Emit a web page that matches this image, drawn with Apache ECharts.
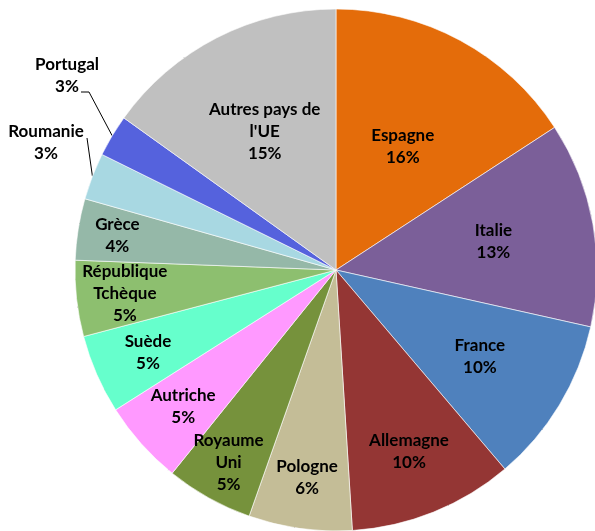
<!DOCTYPE html>
<html>
<head>
<meta charset="utf-8">
<script src="https://cdn.jsdelivr.net/npm/echarts@6/dist/echarts.min.js"></script>
<style>
  html, body { margin: 0; padding: 0; background: #fff; }
  #chart { width: 595px; height: 531px; }
</style>
</head>
<body>
<div id="chart"></div>
<script>
// parts des pays (%), dans le sens horaire depuis midi
var pays = ['Espagne', 'Italie', 'France', 'Allemagne', 'Pologne', 'Royaume\nUni', 'Autriche',
  'Suède', 'République\nTchèque', 'Grèce', 'Roumanie', 'Portugal', "Autres pays de\nl'UE"];
var parts = [15.8, 12.7, 10.3, 10.2, 6.4, 5.4, 5.2, 4.9, 4.7, 3.8, 2.9, 2.6, 15.1];
var couleurs = ['#e46c0a', '#7b5f99', '#4f81bd', '#943634', '#c4bd97', '#76923c', '#ff99ff',
  '#66ffcc', '#8dbf6f', '#95b8a8', '#a8d8e2', '#5562dd', '#c0c0c0'];
// distance des étiquettes au centre (fraction du rayon), comme le "meilleur ajustement" d'Excel
var rayonsEtiquettes = [0.537, 0.613, 0.644, 0.748, 0.804, 0.845, 0.785, 0.786, 0.814, 0.848, 1, 1, 0.598];

var CX = 336, CY = 270, R = 261;
// étiquettes sorties du camembert (avec trait de rappel)
var sorties = {
  'Portugal': { x: 67, y: 76, coude: [89, 92], bout: [81, 92] },
  'Roumanie': { x: 46, y: 143, coude: [87, 138], bout: [87, 138] }
};

var total = parts.reduce(function (a, b) { return a + b; }, 0);
// angle de la bissectrice de chaque part (radians, depuis midi, sens horaire)
var cumul = 0;
var bissectrices = parts.map(function (v) {
  var a = (cumul + v / 2) / total * 2 * Math.PI;
  cumul += v;
  return a;
});

var chart = echarts.init(document.getElementById('chart'));

var data = pays.map(function (p, i) {
  var item = { name: p, value: parts[i], itemStyle: { color: couleurs[i] } };
  if (sorties[p]) {
    item.label = { position: 'outside' };
  }
  return item;
});

chart.setOption({
  animation: false,
  series: [{
    type: 'pie',
    center: [CX, CY],
    radius: R,
    startAngle: 90,
    clockwise: true,
    avoidLabelOverlap: false,
    itemStyle: { borderColor: '#ffffff', borderWidth: 0.6 },
    label: {
      position: 'inside',
      formatter: function (p) {
        return p.name + '\n' + Math.round(p.percent) + '%';
      },
      color: '#000',
      fontFamily: 'Lato',
      fontWeight: 'bold',
      fontSize: 17,
      lineHeight: 22,
      align: 'center'
    },
    labelLine: { show: true, length: 20, length2: 6, lineStyle: { color: '#000', width: 1 } },
    labelLayout: function (params) {
      var i = params.dataIndex;
      var s = sorties[pays[i]];
      if (s) {
        var p0 = params.labelLinePoints ? params.labelLinePoints[0] : [0, 0];
        return {
          x: s.x, y: s.y, align: 'center', verticalAlign: 'middle',
          labelLinePoints: [p0, s.coude, s.bout]
        };
      }
      var d = rayonsEtiquettes[i] * R, a = bissectrices[i];
      return {
        x: CX + d * Math.sin(a), y: CY - d * Math.cos(a),
        align: 'center', verticalAlign: 'middle'
      };
    },
    data: data
  }]
});
</script>
</body>
</html>
